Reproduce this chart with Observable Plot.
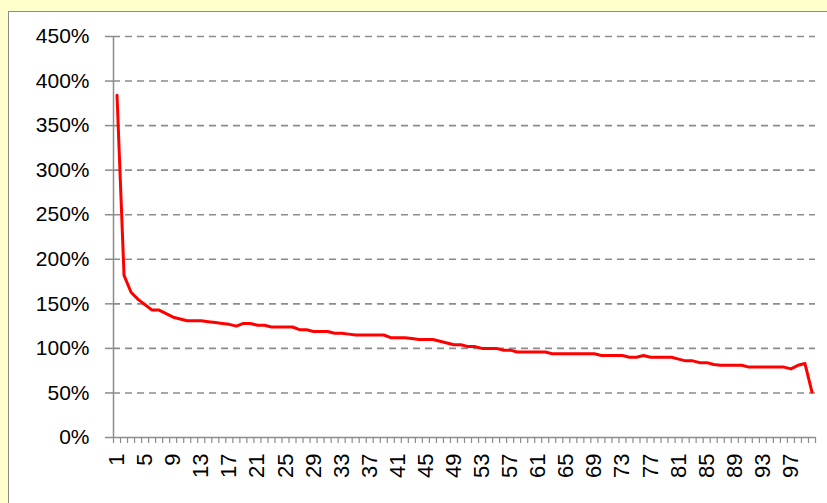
<!DOCTYPE html>
<html><head><meta charset="utf-8">
<script src="https://cdn.jsdelivr.net/npm/d3@7"></script>
<script src="https://cdn.jsdelivr.net/npm/@observablehq/plot@0.6"></script>
<style>
html,body{margin:0;padding:0;width:827px;height:503px;overflow:hidden;background:#FFFFCC;}
#panel{position:absolute;left:8px;top:11px;width:900px;height:600px;background:#fff;border:1px solid #8c8c8c;box-shadow:0 1px 0 #c8c8a0;}
#chart{position:absolute;left:0;top:0;}
</style></head><body><div id="panel"></div><div id="chart"></div>
<script>
const categories = [1,2,3,4,5,6,7,8,9,10,11,12,13,14,15,16,17,18,19,20,21,22,23,24,25,26,27,28,29,30,31,32,33,34,35,36,37,38,39,40,41,42,43,44,45,46,47,48,49,50,51,52,53,54,55,56,57,58,59,60,61,62,63,64,65,66,67,68,69,70,71,72,73,74,75,76,77,78,79,80,81,82,83,84,85,86,87,88,89,90,91,92,93,94,95,96,97,98,99,100];
const values = [384,182,163,155,149,143,143,139,135,133,131,131,131,130,129,128,127,125,128,128,126,126,124,124,124,124,121,121,119,119,119,117,117,116,115,115,115,115,115,112,112,112,111,110,110,110,108,106,104,104,102,102,100,100,100,98,98,96,96,96,96,96,94,94,94,94,94,94,94,92,92,92,92,90,90,92,90,90,90,90,88,86,86,84,84,82,81,81,81,81,79,79,79,79,79,79,77,81,83,51];
const yTicks = [0,50,100,150,200,250,300,350,400,450];
const xTickLabels = [1,5,9,13,17,21,25,29,33,37,41,45,49,53,57,61,65,69,73,77,81,85,89,93,97];

const data = categories.map((c, i) => ({cat: c, value: values[i]}));
const boundaries = categories.map(c => c - 0.5).concat([categories[categories.length - 1] + 0.5]);
const grey = "#8c8c8c";

const chart = Plot.plot({
  width: 827, height: 503,
  marginLeft: 113, marginRight: 12, marginTop: 36, marginBottom: 66,
  style: {background: "transparent", fontFamily: "'Liberation Sans', Arial, sans-serif", color: "#000"},
  x: {domain: [0.5, 100.5], label: null},
  y: {domain: [0, 450], label: null},
  marks: [
    Plot.ruleY(yTicks.filter(d => d > 0), {x1: 0.5, x2: 100.5, stroke: grey, strokeWidth: 1.6, strokeDasharray: "7,5"}),
    Plot.axisY({ticks: yTicks, tickFormat: d => d + "%", tickSize: 8, tickPadding: 16, stroke: grey, strokeWidth: 1.5, fill: "#000", fontSize: 21, label: null}),
    Plot.axisX({ticks: boundaries, tickFormat: () => "", tickSize: 6, stroke: grey, strokeWidth: 1.2, label: null}),
    Plot.axisX({ticks: xTickLabels, tickSize: 0, tickPadding: 16, tickRotate: -90, fontSize: 22, fill: "#000", label: null}),
    Plot.ruleX([0.5], {y1: 0, y2: 450, stroke: grey, strokeWidth: 1.5}),
    Plot.ruleY([0], {x1: 0.5, x2: 100.5, stroke: grey, strokeWidth: 1.5}),
    Plot.lineY(data, {x: "cat", y: "value", stroke: "#ff0000", strokeWidth: 3})
  ]
});
document.getElementById("chart").appendChild(chart);
</script>
</body></html>
